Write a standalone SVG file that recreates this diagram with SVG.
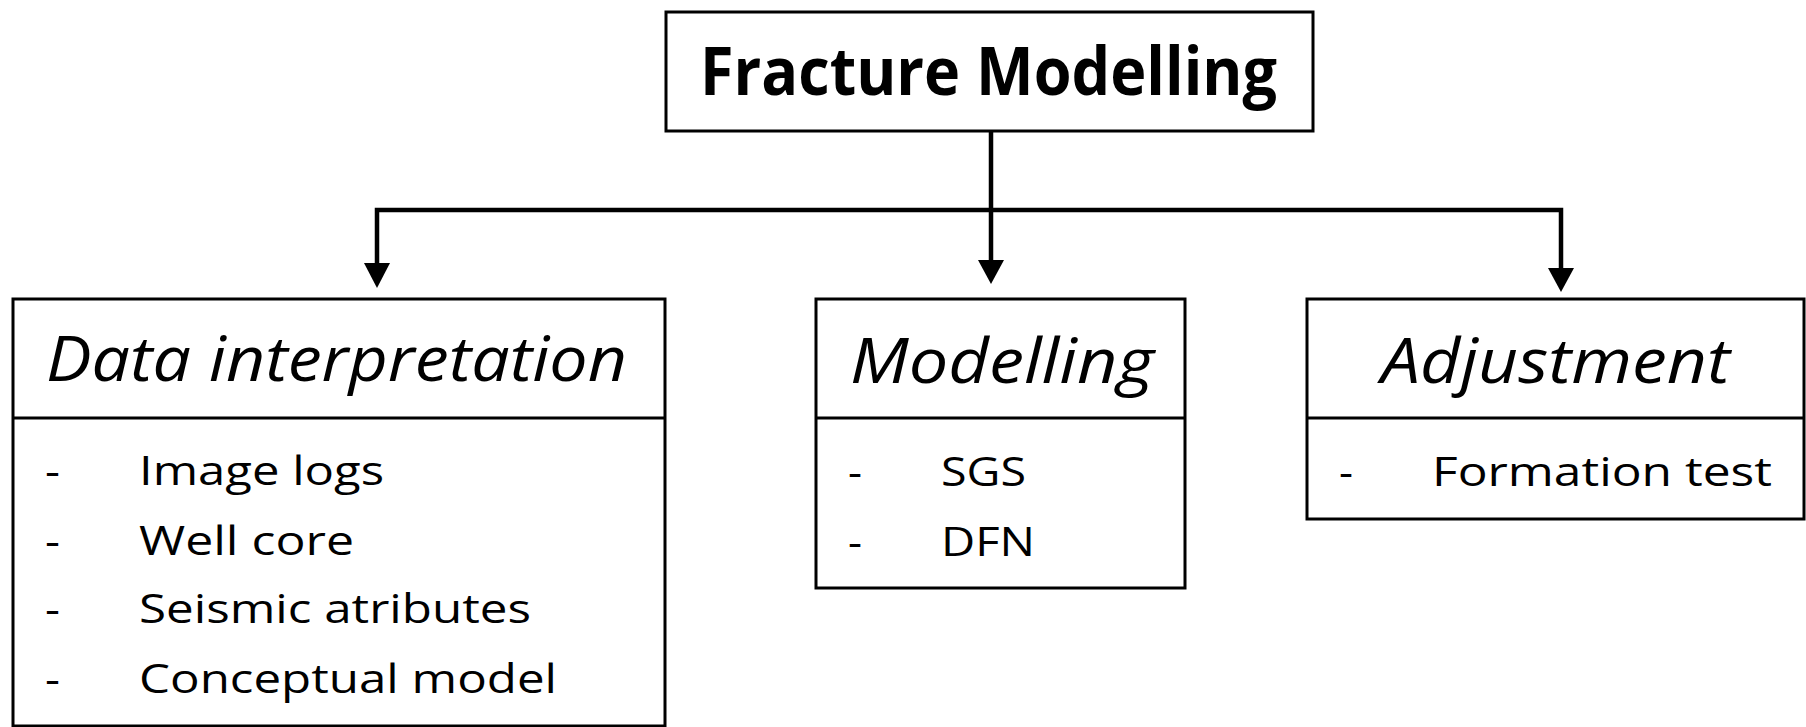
<svg xmlns="http://www.w3.org/2000/svg" width="1806" height="727" viewBox="0 0 1806 727">
<style>
.box{fill:#fff;stroke:#000;stroke-width:3}
.div{stroke:#000;stroke-width:3}
.conn{fill:none;stroke:#000;stroke-width:4.5}
.head{fill:#000}
.title{font-family:"Open Sans","Liberation Sans",sans-serif;font-weight:bold;font-size:66px;fill:#000}
.hdr{font-family:"Open Sans","Liberation Sans",sans-serif;font-style:italic;font-size:62px;fill:#000}
.item{font-family:"Open Sans","Liberation Sans",sans-serif;font-size:41px;fill:#000}
</style>
<rect width="1806" height="727" fill="#fff"/>
<g id="connectors">
<path class="conn" d="M991,131 V262"/>
<path class="conn" d="M377,266 V210 H1561 V268"/>
<polygon class="head" points="978,260 1004,260 991,284"/>
<polygon class="head" points="364,263 390,263 377,288"/>
<polygon class="head" points="1548,268 1574,268 1561,292"/>
</g>
<g id="fracture-modelling">
<rect class="box" x="666" y="12" width="647" height="119"/>
<text class="title" x="700" y="95" textLength="577" lengthAdjust="spacingAndGlyphs">Fracture Modelling</text>
</g>
<g id="data-interpretation">
<rect class="box" x="13" y="299" width="652" height="427"/>
<line class="div" x1="13" y1="418" x2="665" y2="418"/>
<text class="hdr" x="46" y="381" textLength="581" lengthAdjust="spacingAndGlyphs">Data interpretation</text>
<text class="item" x="45" y="485" textLength="15" lengthAdjust="spacingAndGlyphs">-</text>
<text class="item" x="139" y="485" textLength="245" lengthAdjust="spacingAndGlyphs">Image logs</text>
<text class="item" x="45" y="555" textLength="15" lengthAdjust="spacingAndGlyphs">-</text>
<text class="item" x="139" y="555" textLength="215" lengthAdjust="spacingAndGlyphs">Well core</text>
<text class="item" x="45" y="623" textLength="15" lengthAdjust="spacingAndGlyphs">-</text>
<text class="item" x="139" y="623" textLength="392" lengthAdjust="spacingAndGlyphs">Seismic atributes</text>
<text class="item" x="45" y="693" textLength="15" lengthAdjust="spacingAndGlyphs">-</text>
<text class="item" x="139" y="693" textLength="418" lengthAdjust="spacingAndGlyphs">Conceptual model</text>
</g>
<g id="modelling">
<rect class="box" x="816" y="299" width="369" height="289"/>
<line class="div" x1="816" y1="418" x2="1185" y2="418"/>
<text class="hdr" x="850" y="383" textLength="304" lengthAdjust="spacingAndGlyphs">Modelling</text>
<text class="item" x="848" y="486" textLength="14" lengthAdjust="spacingAndGlyphs">-</text>
<text class="item" x="941" y="486" textLength="85" lengthAdjust="spacingAndGlyphs">SGS</text>
<text class="item" x="848" y="556" textLength="14" lengthAdjust="spacingAndGlyphs">-</text>
<text class="item" x="941" y="556" textLength="94" lengthAdjust="spacingAndGlyphs">DFN</text>
</g>
<g id="adjustment">
<rect class="box" x="1307" y="299" width="497" height="220"/>
<line class="div" x1="1307" y1="418" x2="1804" y2="418"/>
<text class="hdr" x="1381" y="383" textLength="349" lengthAdjust="spacingAndGlyphs">Adjustment</text>
<text class="item" x="1339" y="486" textLength="14" lengthAdjust="spacingAndGlyphs">-</text>
<text class="item" x="1432" y="486" textLength="340" lengthAdjust="spacingAndGlyphs">Formation test</text>
</g>
</svg>
